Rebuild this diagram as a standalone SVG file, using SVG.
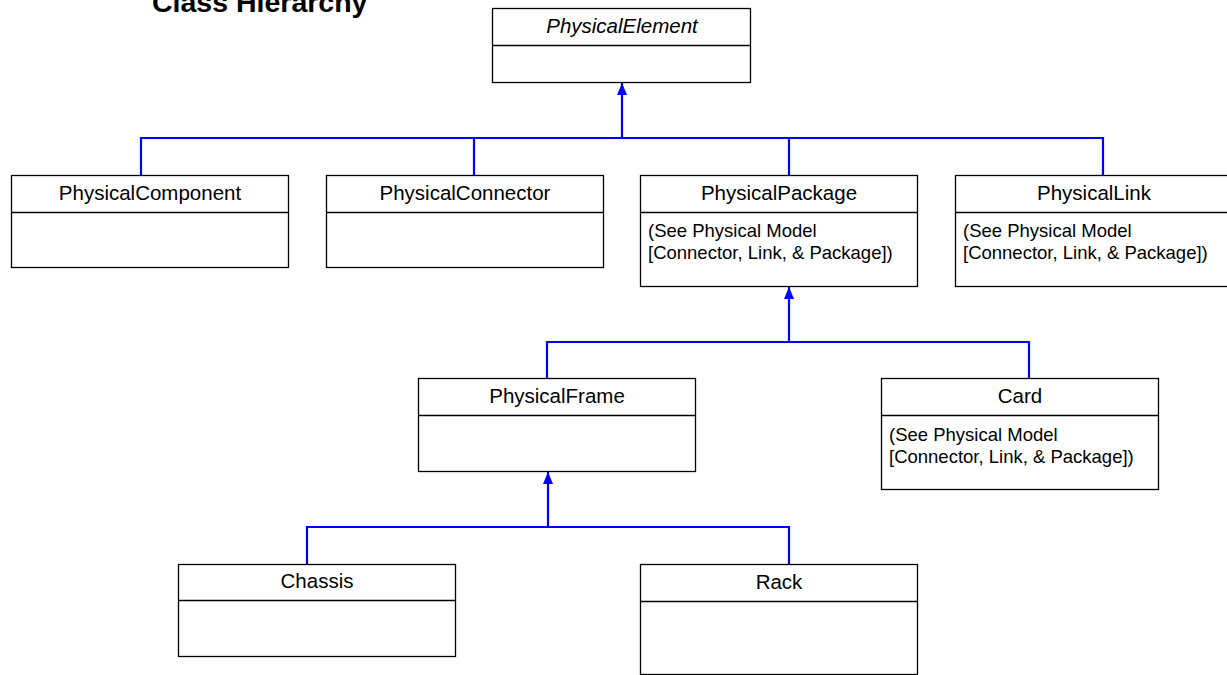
<svg xmlns="http://www.w3.org/2000/svg" width="1227" height="675" viewBox="0 0 1227 675">
<style>
.box{fill:#fff;stroke:#000;stroke-width:1.3}
.div{stroke:#000;stroke-width:1.3}
.t{font-family:"Liberation Sans",Arial,sans-serif;font-size:20.5px;text-anchor:middle;fill:#000}
.b{font-family:"Liberation Sans",Arial,sans-serif;font-size:18.5px;fill:#000}
.c{fill:none;stroke:#0000FF;stroke-width:2.2}
.title{font-family:"Liberation Sans",Arial,sans-serif;font-size:28.5px;font-weight:bold;fill:#000}
</style>
<defs>
<marker id="tri" viewBox="0 0 12 10" refX="12" refY="5" markerWidth="12" markerHeight="10" markerUnits="userSpaceOnUse" orient="auto">
<path d="M0,0 L12,5 L0,10 Z" fill="#0000FF"/>
</marker>
</defs>
<rect width="1227" height="675" fill="#fff"/>
<text class="title" x="152" y="12">Class Hierarchy</text>
<g id="connectors">
<path class="c" d="M141,175 V138 H1103 V175 M474,138 V175 M789,138 V175"/>
<path class="c" d="M622,138 V83" marker-end="url(#tri)"/>
<path class="c" d="M547,378 V342 H1029 V378"/>
<path class="c" d="M789,342 V287" marker-end="url(#tri)"/>
<path class="c" d="M307,564 V527 H789 V564"/>
<path class="c" d="M548,527 V472" marker-end="url(#tri)"/>
</g>
<g id="PhysicalElement">
<rect class="box" x="492.5" y="8.5" width="258" height="74"/>
<line class="div" x1="492.5" y1="45.5" x2="750.5" y2="45.5"/>
<text class="t" x="622" y="33" font-style="italic">PhysicalElement</text>
</g>
<g id="PhysicalComponent">
<rect class="box" x="11.5" y="175.5" width="277" height="92"/>
<line class="div" x1="11.5" y1="212.5" x2="288.5" y2="212.5"/>
<text class="t" x="150" y="200">PhysicalComponent</text>
</g>
<g id="PhysicalConnector">
<rect class="box" x="326.5" y="175.5" width="277" height="92"/>
<line class="div" x1="326.5" y1="212.5" x2="603.5" y2="212.5"/>
<text class="t" x="465" y="200">PhysicalConnector</text>
</g>
<g id="PhysicalPackage">
<rect class="box" x="640.5" y="175.5" width="277" height="111"/>
<line class="div" x1="640.5" y1="212.5" x2="917.5" y2="212.5"/>
<text class="t" x="779" y="200">PhysicalPackage</text>
<text class="b" x="648" y="237">(See Physical Model</text>
<text class="b" x="648" y="259">[Connector, Link, &amp; Package])</text>
</g>
<g id="PhysicalLink">
<rect class="box" x="955.5" y="175.5" width="280" height="111"/>
<line class="div" x1="955.5" y1="212.5" x2="1235" y2="212.5"/>
<text class="t" x="1094" y="200">PhysicalLink</text>
<text class="b" x="963" y="237">(See Physical Model</text>
<text class="b" x="963" y="259">[Connector, Link, &amp; Package])</text>
</g>
<g id="PhysicalFrame">
<rect class="box" x="418.5" y="378.5" width="277" height="93"/>
<line class="div" x1="418.5" y1="415.5" x2="695.5" y2="415.5"/>
<text class="t" x="557" y="403">PhysicalFrame</text>
</g>
<g id="Card">
<rect class="box" x="881.5" y="378.5" width="277" height="111"/>
<line class="div" x1="881.5" y1="415.5" x2="1158.5" y2="415.5"/>
<text class="t" x="1020" y="403">Card</text>
<text class="b" x="889" y="441">(See Physical Model</text>
<text class="b" x="889" y="463">[Connector, Link, &amp; Package])</text>
</g>
<g id="Chassis">
<rect class="box" x="178.5" y="564.5" width="277" height="92"/>
<line class="div" x1="178.5" y1="600.5" x2="455.5" y2="600.5"/>
<text class="t" x="317" y="588">Chassis</text>
</g>
<g id="Rack">
<rect class="box" x="640.5" y="564.5" width="277" height="110"/>
<line class="div" x1="640.5" y1="601.5" x2="917.5" y2="601.5"/>
<text class="t" x="779" y="589">Rack</text>
</g>
</svg>
